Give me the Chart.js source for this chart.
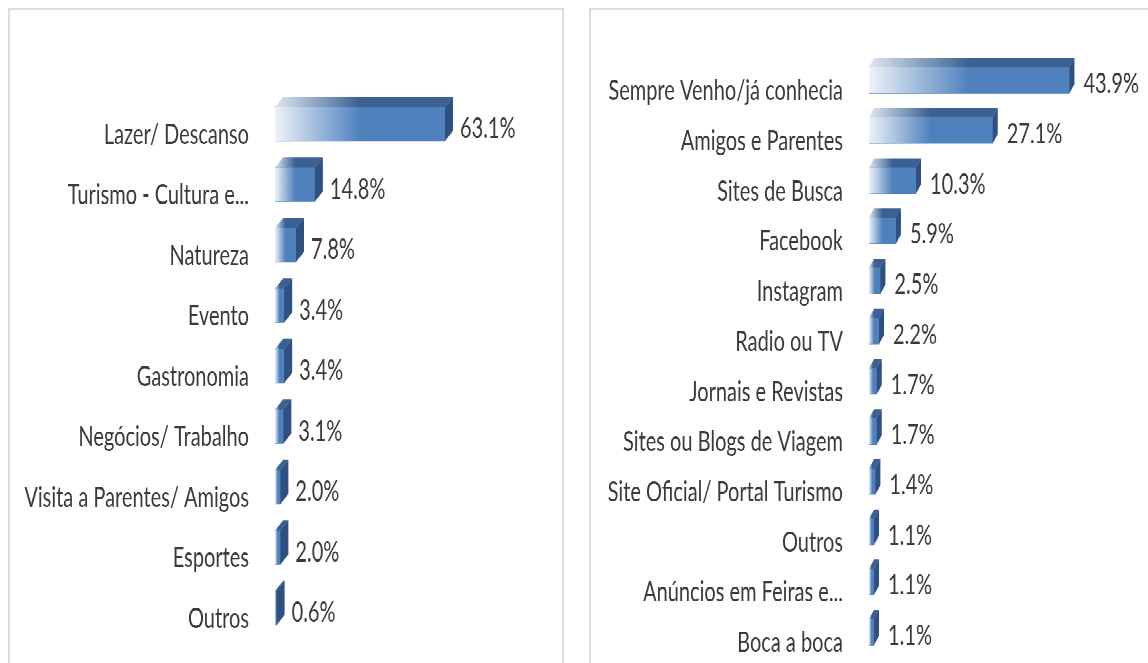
<!DOCTYPE html>
<html>
<head>
<meta charset="utf-8">
<script src="https://cdn.jsdelivr.net/npm/chart.js@4.4.1/dist/chart.umd.min.js"></script>
<style>
  html, body { margin:0; padding:0; background:#ffffff; width:1148px; height:663px; overflow:hidden; }
  .panel { position:absolute; border:2px solid #dcdcdc; box-sizing:border-box; }
  #stage { position:absolute; left:0; top:0; width:1148px; height:474px; transform:scaleY(1.398734); transform-origin:0 0; }
  .box { position:absolute; top:0; height:474px; }
  canvas { display:block; }
</style>
</head>
<body>
<div class="panel" style="left:8px; top:8px; width:556px; height:700px; border-bottom:none;"></div>
<div class="panel" style="left:589px; top:8px; width:600px; height:700px; border-bottom:none; border-right:none;"></div>
<div id="stage">
  <div class="box" style="left:10px; width:551px;"><canvas id="c1" width="551" height="474"></canvas></div>
  <div class="box" style="left:591px; width:557px;"><canvas id="c2" width="557" height="474"></canvas></div>
</div>
<script>
// ---- data ----
const leftCategories = ['Lazer/ Descanso','Turismo - Cultura e...','Natureza','Evento','Gastronomia','Negócios/ Trabalho','Visita a Parentes/ Amigos','Esportes','Outros'];
const leftValues = [63.1, 14.8, 7.8, 3.4, 3.4, 3.1, 2.0, 2.0, 0.6];

const rightCategories = ['Sempre Venho/já conhecia','Amigos e Parentes','Sites de Busca','Facebook','Instagram','Radio ou TV','Jornais e Revistas','Sites ou Blogs de Viagem','Site Oficial/ Portal Turismo','Outros','Anúncios em Feiras e...','Boca a boca'];
const rightValues = [43.9, 27.1, 10.3, 5.9, 2.5, 2.2, 1.7, 1.7, 1.4, 1.1, 1.1, 1.1];

const H = 474;
const S = 663 / H; // vertical stretch of the stage
const FONT = 'Lato';
const TEXT = '#3a3a3a';

const bar3d = {
  id: 'bar3d',
  afterDatasetsDraw(chart, args, opts) {
    const ctx = chart.ctx;
    const meta = chart.getDatasetMeta(0);
    const vals = chart.data.datasets[0].data;
    const dx = opts.dx, dy = opts.dy;
    ctx.save();
    meta.data.forEach((el, i) => {
      const p = el.getProps(['x','y','base','height'], true);
      const x0 = Math.min(p.x, p.base), x1 = Math.max(p.x, p.base);
      const yT = p.y - p.height/2, yB = p.y + p.height/2;
      const w = x1 - x0;
      const span = Math.max(w * 0.5, 1);
      // front face
      let g = ctx.createLinearGradient(x0, 0, x0 + span, 0);
      g.addColorStop(0, '#eef3f9');
      g.addColorStop(1, '#4f81bd');
      ctx.fillStyle = g;
      ctx.fillRect(x0, yT, w, p.height);
      // top face
      g = ctx.createLinearGradient(x0, 0, x0 + span, 0);
      g.addColorStop(0, '#dfe7f1');
      g.addColorStop(1, '#3a6192');
      ctx.fillStyle = g;
      ctx.beginPath();
      ctx.moveTo(x0, yT); ctx.lineTo(x1, yT); ctx.lineTo(x1+dx, yT-dy); ctx.lineTo(x0+dx, yT-dy);
      ctx.closePath(); ctx.fill();
      // side face
      ctx.fillStyle = '#2e5181';
      ctx.beginPath();
      ctx.moveTo(x1, yT); ctx.lineTo(x1+dx, yT-dy); ctx.lineTo(x1+dx, yB-dy); ctx.lineTo(x1, yB);
      ctx.closePath(); ctx.fill();
      // value label
      ctx.fillStyle = TEXT;
      ctx.font = '20px ' + FONT;
      ctx.textBaseline = 'middle';
      ctx.textAlign = 'left';
      ctx.fillText(vals[i].toFixed(1) + '%', x1 + opts.gap, p.y + opts.labelDy);
    });
    ctx.restore();
  }
};

function makeChart(id, cats, vals, cfg) {
  return new Chart(document.getElementById(id), {
    type: 'bar',
    data: { labels: cats, datasets: [{ data: vals, backgroundColor: '#4f81bd', barThickness: cfg.thick }] },
    options: {
      indexAxis: 'y',
      responsive: false,
      devicePixelRatio: 2,
      animation: false,
      layout: { padding: cfg.padding },
      plugins: { legend: { display: false }, tooltip: { enabled: false }, bar3d: cfg.d3 },
      scales: {
        x: { display: false, min: 0, max: cfg.max },
        y: {
          grid: { display: false, drawTicks: false },
          border: { display: false },
          ticks: { color: TEXT, font: { family: FONT, size: 20 }, padding: 26, autoSkip: false, labelOffset: cfg.labelOffset },
          afterFit: (axis) => { axis.width = cfg.axisW; axis.paddingTop = 0; axis.paddingBottom = 0; }
        }
      }
    },
    plugins: [bar3d]
  });
}

makeChart('c1', leftCategories, leftValues, {
  thick: 34 / S, max: 100, axisW: 265,
  padding: { left: 0, right: 551 - 265 - 269.4, top: 93.75 / S, bottom: H - 638.25 / S },
  labelOffset: 11 / S,
  d3: { dx: 8, dy: 10 / S, gap: 15, labelDy: 5 / S }
});
makeChart('c2', rightCategories, rightValues, {
  thick: 26 / S, max: 50, axisW: 278,
  padding: { left: 0, right: 557 - 278 - 228.3, top: 55 / S, bottom: H - 657 / S },
  labelOffset: 11 / S,
  d3: { dx: 5, dy: 9 / S, gap: 14, labelDy: 4 / S }
});
</script>
</body>
</html>
